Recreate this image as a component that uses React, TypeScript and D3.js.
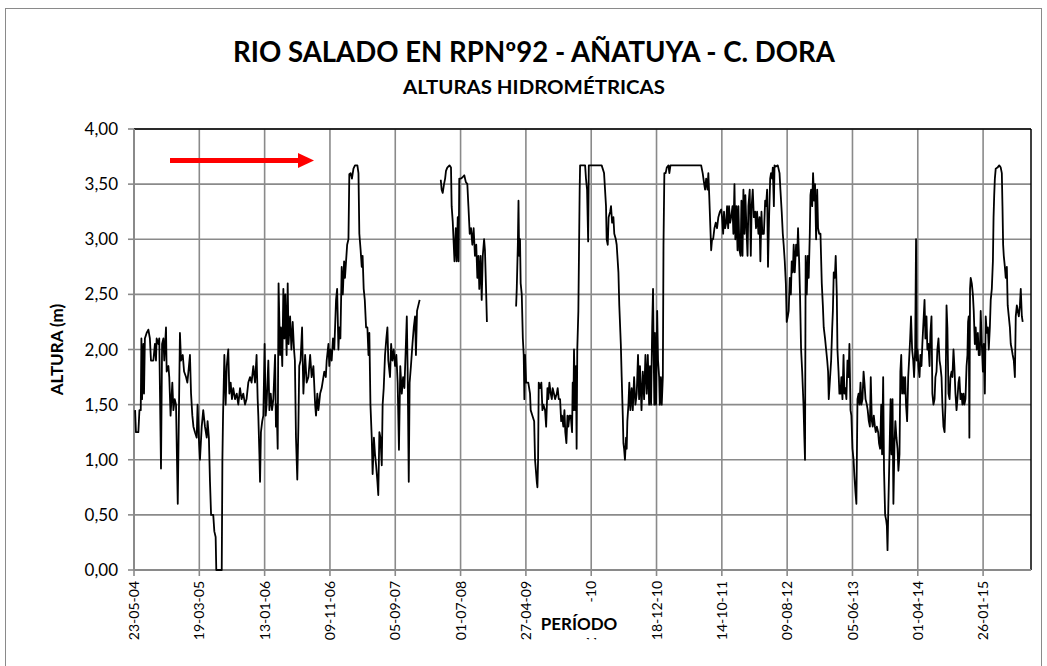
import React from 'react';
import * as d3 from 'd3';

// x values are days counted from 23-05-04, y values are heights in metres
const segment1: [number, number][] = [
  [5, 1.45], [9, 1.25], [20, 1.25], [25, 1.45], [31, 1.45], [34, 2.1], [37, 1.55], [43, 2.05], [46, 1.6], [50, 2.1],
  [58, 2.15], [66, 2.18], [73, 2.1], [78, 1.9], [89, 1.9], [96, 2.05], [101, 1.9], [104, 2.1], [112, 2.05], [116, 2.1],
  [124, 0.92], [129, 2.05], [135, 2.1], [139, 1.9], [147, 2.2], [150, 1.8], [158, 1.85], [162, 1.75], [168, 1.4], [176, 1.7],
  [181, 1.45], [187, 1.55], [193, 1.5], [201, 0.6], [211, 2.15], [216, 1.9], [224, 1.95], [230, 1.8], [239, 1.75], [245, 1.7],
  [250, 1.8], [257, 1.95], [262, 1.6], [268, 1.4], [273, 1.3], [280, 1.25], [288, 1.2], [292, 1.5], [299, 1.15], [303, 1.0],
  [311, 1.3], [318, 1.45], [326, 1.3], [334, 1.2], [338, 1.35], [344, 1.2], [349, 0.8], [354, 0.5], [364, 0.5], [369, 0.35],
  [375, 0.3], [378, 0.0], [403, 0.0], [406, 1.0], [409, 1.4], [415, 1.95], [421, 1.5], [426, 1.85], [433, 2.0], [438, 1.6],
  [444, 1.7], [450, 1.55], [456, 1.65], [464, 1.55], [472, 1.6], [479, 1.5], [487, 1.65], [494, 1.55], [502, 1.6], [510, 1.5],
  [517, 1.55], [525, 1.7], [533, 1.75], [540, 1.7], [548, 1.85], [556, 1.7], [563, 1.95], [568, 1.55], [571, 1.4], [576, 1.05],
  [579, 0.8], [583, 1.25], [589, 1.35], [594, 1.4], [600, 2.05], [605, 1.4], [609, 1.5], [617, 1.9], [622, 1.45], [628, 1.6],
  [634, 1.45], [640, 1.55], [648, 1.95], [652, 1.3], [655, 1.5], [660, 1.1], [664, 2.6], [671, 1.95], [675, 2.2], [681, 1.85],
  [686, 2.55], [691, 2.1], [695, 2.5], [701, 1.95], [706, 2.6], [710, 2.05], [717, 2.3], [723, 2.0], [729, 2.25], [735, 2.0],
  [739, 1.9], [744, 1.2], [750, 0.82], [755, 1.3], [759, 1.85], [765, 1.9], [772, 2.2], [778, 1.6], [786, 1.95], [793, 1.7],
  [801, 1.75], [809, 1.95], [816, 1.75], [824, 1.85], [832, 1.5], [836, 1.4], [842, 1.6], [847, 1.45], [855, 1.6], [862, 1.65],
  [870, 1.75], [874, 1.8], [881, 1.75], [885, 1.9], [893, 2.05], [897, 1.85], [902, 2.0], [908, 1.9], [914, 2.1], [920, 2.0],
  [928, 2.45], [933, 2.55], [939, 2.0], [943, 2.2], [948, 2.1], [954, 2.75], [959, 2.5], [965, 2.8], [969, 2.65], [974, 2.8],
  [979, 2.95], [985, 3.0], [989, 3.59], [995, 3.6], [1001, 3.55], [1008, 3.64], [1015, 3.67], [1026, 3.67], [1031, 3.6], [1035, 3.05],
  [1041, 2.9], [1046, 2.75], [1050, 2.85], [1055, 2.55], [1060, 2.45], [1066, 2.2], [1072, 2.2], [1077, 1.95], [1081, 2.15], [1086, 1.5],
  [1092, 1.2], [1096, 0.87], [1102, 1.2], [1107, 1.05], [1112, 0.95], [1118, 0.8], [1122, 0.68], [1127, 1.25], [1132, 1.2], [1138, 0.95],
  [1142, 1.5], [1147, 1.65], [1153, 1.95], [1159, 2.1], [1164, 2.2], [1168, 1.9], [1176, 1.75], [1181, 2.05], [1187, 1.9], [1193, 2.0],
  [1199, 1.85], [1205, 1.95], [1211, 1.7], [1217, 1.09], [1223, 1.85], [1230, 1.6], [1236, 1.75], [1242, 1.65], [1248, 2.0], [1253, 2.3],
  [1257, 1.8], [1262, 0.8], [1266, 1.7], [1272, 1.85], [1279, 2.05], [1285, 2.2], [1291, 2.3], [1295, 1.95], [1300, 2.35], [1306, 2.4],
  [1312, 2.45],
];

const segment2: [number, number][] = [
  [1409, 3.54], [1413, 3.45], [1418, 3.42], [1424, 3.5], [1429, 3.55], [1433, 3.62], [1439, 3.65], [1449, 3.67], [1456, 3.65], [1459, 3.3],
  [1464, 3.16], [1472, 2.8], [1478, 3.1], [1482, 2.8], [1487, 3.2], [1491, 2.8], [1494, 3.55], [1501, 3.55], [1508, 3.56], [1517, 3.58],
  [1524, 3.52], [1531, 3.5], [1536, 3.3], [1542, 3.05], [1548, 3.1], [1554, 2.95], [1560, 3.1], [1566, 2.85], [1572, 2.95], [1577, 2.65],
  [1582, 2.85], [1586, 2.55], [1592, 2.85], [1597, 2.45], [1602, 2.85], [1608, 3.0], [1612, 2.9], [1617, 2.55], [1621, 2.25],
];

const segment3: [number, number][] = [
  [1755, 2.39], [1758, 2.55], [1763, 2.95], [1766, 3.35], [1769, 2.85], [1773, 3.0], [1776, 2.6], [1781, 2.5], [1786, 2.1], [1790, 1.95],
  [1793, 1.55], [1796, 1.95], [1801, 1.7], [1811, 1.7], [1819, 1.6], [1822, 1.45], [1830, 1.4], [1838, 1.35], [1842, 1.0], [1850, 0.8],
  [1853, 0.75], [1856, 1.0], [1859, 1.7], [1865, 1.65], [1871, 1.7], [1876, 1.45], [1880, 1.5], [1888, 1.45], [1893, 1.3], [1899, 1.65],
  [1903, 1.55], [1908, 1.7], [1914, 1.6], [1919, 1.55], [1923, 1.65], [1929, 1.6], [1934, 1.55], [1942, 1.6], [1946, 1.65], [1951, 1.55],
  [1957, 1.55], [1962, 1.35], [1966, 1.4], [1972, 1.3], [1977, 1.45], [1981, 1.25], [1986, 1.15], [1991, 1.4], [1995, 1.3], [2000, 1.4],
  [2006, 1.4], [2012, 1.25], [2015, 1.7], [2018, 1.45], [2021, 2.0], [2026, 1.45], [2030, 1.85], [2033, 1.1], [2036, 2.0], [2041, 2.35],
  [2044, 2.9], [2047, 3.45], [2049, 3.67], [2060, 3.67], [2072, 3.67], [2076, 3.55], [2081, 3.45], [2086, 2.98], [2089, 3.67], [2093, 3.67],
  [2148, 3.67], [2159, 3.6], [2168, 3.3], [2171, 3.0], [2176, 2.95], [2180, 3.2], [2187, 3.25], [2191, 3.3], [2196, 3.15], [2202, 3.2],
  [2206, 3.05], [2213, 3.0], [2217, 2.95], [2225, 2.7], [2229, 2.4], [2236, 2.05], [2240, 1.75], [2245, 1.4], [2248, 1.15], [2251, 1.1],
  [2255, 1.0], [2260, 1.2], [2263, 1.1], [2266, 1.35], [2271, 1.5], [2275, 1.7], [2280, 1.45], [2286, 1.65], [2291, 1.45], [2297, 1.75],
  [2303, 1.5], [2309, 1.6], [2315, 1.95], [2320, 1.55], [2324, 1.85], [2331, 1.45], [2337, 1.8], [2343, 1.55], [2349, 1.95], [2355, 1.6],
  [2360, 1.95], [2366, 1.5], [2370, 1.85], [2375, 1.5], [2380, 2.2], [2384, 2.55], [2387, 1.95], [2390, 1.5], [2393, 2.15], [2398, 1.5],
  [2403, 2.35], [2407, 1.9], [2412, 1.75], [2415, 1.5], [2420, 1.75], [2424, 1.5], [2429, 1.75], [2432, 2.95], [2436, 3.6], [2442, 3.6],
  [2447, 3.65], [2455, 3.67], [2459, 3.6], [2464, 3.67], [2470, 3.67], [2516, 3.67], [2562, 3.67], [2605, 3.67], [2612, 3.6], [2619, 3.5],
  [2623, 3.45], [2628, 3.55], [2634, 3.45], [2638, 3.6], [2642, 3.4], [2651, 2.9], [2655, 3.0], [2660, 3.0], [2666, 3.1], [2672, 3.15],
  [2678, 3.1], [2684, 3.2], [2691, 3.25], [2697, 3.27], [2701, 3.2], [2706, 3.05], [2710, 3.25], [2715, 3.1], [2720, 3.15], [2724, 3.3],
  [2729, 3.1], [2733, 3.3], [2738, 3.15], [2743, 3.2], [2749, 3.3], [2753, 3.05], [2758, 3.5], [2762, 3.0], [2767, 3.3], [2772, 2.9],
  [2776, 3.3], [2781, 2.9], [2786, 2.85], [2790, 3.35], [2795, 2.85], [2799, 3.45], [2804, 3.05], [2808, 3.4], [2813, 3.1], [2818, 2.85],
  [2822, 3.3], [2828, 3.45], [2833, 2.85], [2837, 3.3], [2842, 3.45], [2847, 3.2], [2853, 3.25], [2857, 3.1], [2862, 3.25], [2868, 3.05],
  [2873, 3.2], [2877, 2.8], [2882, 3.25], [2886, 3.05], [2893, 3.05], [2899, 3.35], [2903, 3.3], [2908, 3.45], [2912, 2.75], [2917, 3.2],
  [2922, 3.55], [2926, 3.6], [2931, 3.55], [2934, 3.65], [2939, 3.3], [2942, 3.67], [2948, 3.66], [2957, 3.67], [2965, 3.6], [2969, 3.45],
  [2975, 3.25], [2980, 3.05], [2984, 2.95], [2989, 2.8], [2994, 2.6], [2998, 2.25], [3003, 2.3], [3007, 2.35], [3012, 2.65], [3017, 2.5],
  [3021, 2.8], [3026, 2.7], [3030, 2.95], [3035, 2.7], [3041, 2.95], [3046, 2.85], [3050, 3.1], [3055, 2.8], [3059, 2.5], [3064, 2.0],
  [3069, 1.8], [3075, 1.5], [3079, 1.2], [3082, 1.0], [3085, 2.85], [3090, 2.5], [3095, 2.85], [3099, 2.65], [3104, 3.05], [3107, 3.4],
  [3110, 3.45], [3115, 3.3], [3119, 3.6], [3124, 3.35], [3128, 3.5], [3133, 3.0], [3138, 3.45], [3142, 3.1], [3147, 3.05], [3153, 3.05],
  [3159, 2.6], [3164, 2.4], [3168, 2.2], [3174, 2.1], [3179, 2.0], [3184, 1.9], [3188, 1.8], [3191, 1.55], [3202, 1.9], [3207, 2.2],
  [3210, 2.35], [3214, 2.7], [3219, 2.65], [3223, 2.85], [3228, 2.5], [3231, 2.0], [3236, 1.8], [3240, 1.6], [3245, 1.6], [3249, 1.75],
  [3254, 1.55], [3259, 1.95], [3263, 1.6], [3268, 1.65], [3272, 1.55], [3277, 1.9], [3282, 1.75], [3286, 2.05], [3291, 1.45], [3295, 1.4],
  [3300, 1.1], [3305, 1.0], [3309, 0.85], [3314, 0.7], [3318, 0.6], [3323, 1.55], [3328, 1.6], [3332, 1.5], [3337, 1.7], [3341, 1.5],
  [3346, 1.55], [3351, 1.8], [3355, 1.7], [3360, 1.55], [3366, 1.5], [3370, 1.45], [3375, 1.35], [3380, 1.3], [3384, 1.75], [3389, 1.35],
  [3393, 1.3], [3398, 1.4], [3403, 1.3], [3407, 1.25], [3412, 1.3], [3418, 1.25], [3422, 1.15], [3427, 1.1], [3432, 1.5], [3436, 1.05],
  [3441, 1.75], [3445, 0.9], [3450, 0.5], [3455, 0.45], [3458, 0.4], [3461, 0.18], [3465, 0.6], [3470, 1.05], [3475, 1.55], [3479, 1.05],
  [3484, 1.55], [3488, 0.6], [3493, 1.15], [3497, 1.35], [3502, 1.2], [3507, 1.1], [3511, 0.9], [3516, 1.05], [3520, 1.8], [3524, 1.95],
  [3528, 1.6], [3533, 1.75], [3537, 1.6], [3542, 1.75], [3546, 1.5], [3551, 1.35], [3556, 1.75], [3560, 1.9], [3565, 2.1], [3569, 2.3],
  [3574, 2.0], [3579, 1.9], [3583, 1.75], [3588, 2.0], [3592, 3.0], [3595, 1.9], [3599, 2.0], [3603, 1.85], [3608, 1.75], [3612, 1.95],
  [3617, 1.85], [3621, 2.05], [3626, 2.25], [3631, 2.45], [3635, 2.1], [3640, 2.3], [3644, 2.0], [3649, 2.05], [3654, 1.85], [3658, 2.15],
  [3663, 2.3], [3667, 1.6], [3672, 1.5], [3677, 1.55], [3681, 1.75], [3686, 1.8], [3690, 2.0], [3695, 2.1], [3700, 1.9], [3704, 1.85],
  [3709, 1.75], [3713, 1.5], [3718, 1.3], [3723, 1.25], [3727, 1.5], [3732, 2.4], [3736, 2.2], [3741, 1.6], [3746, 1.55], [3750, 1.75],
  [3755, 1.8], [3759, 1.75], [3764, 2.0], [3768, 1.85], [3773, 1.6], [3778, 1.45], [3782, 1.55], [3787, 1.7], [3791, 1.75], [3796, 1.55],
  [3801, 1.6], [3805, 1.5], [3810, 1.6], [3814, 1.5], [3819, 1.55], [3824, 1.85], [3828, 1.95], [3831, 2.25], [3834, 2.3], [3837, 1.2],
  [3840, 2.55], [3843, 2.65], [3848, 2.6], [3853, 2.5], [3857, 2.35], [3862, 2.05], [3866, 2.2], [3871, 2.0], [3876, 2.15], [3880, 1.95],
  [3885, 1.95], [3889, 2.35], [3894, 2.05], [3899, 1.8], [3903, 2.05], [3908, 1.6], [3912, 2.3], [3917, 2.15], [3922, 2.2], [3926, 2.0],
  [3931, 2.2], [3935, 2.45], [3940, 2.55], [3945, 2.8], [3948, 3.2], [3951, 3.4], [3954, 3.55], [3958, 3.64], [3966, 3.65], [3974, 3.67],
  [3981, 3.65], [3986, 3.6], [3989, 3.3], [3992, 2.95], [3995, 2.85], [4000, 2.75], [4004, 2.65], [4009, 2.75], [4013, 2.4], [4018, 2.3],
  [4023, 2.2], [4027, 2.05], [4032, 2.0], [4036, 1.95], [4041, 1.9], [4046, 1.75], [4050, 2.3], [4055, 2.4], [4059, 2.35], [4064, 2.3],
  [4069, 2.4], [4073, 2.55], [4078, 2.3], [4082, 2.25],
];

const xTickLabels = [
  '23-05-04', '19-03-05', '13-01-06', '09-11-06', '05-09-07', '01-07-08', '27-04-09',
  '21-02-10', '18-12-10', '14-10-11', '09-08-12', '05-06-13', '01-04-14', '26-01-15',
];
const xTickStep = 300; // days between labels
const xDomainEnd = 4120;
const yTicks = [0, 0.5, 1, 1.5, 2, 2.5, 3, 3.5, 4];

const W = 1047;
const H = 666;
const plot = { left: 134, right: 1031, top: 129, bottom: 570 };
const font = "Lato, 'Open Sans', sans-serif";
const gridColor = '#8a8a8a';

export default function App() {
  const x = d3.scaleLinear().domain([0, xDomainEnd]).range([plot.left, plot.right]);
  const y = d3.scaleLinear().domain([0, 4]).range([plot.bottom, plot.top]);
  const line = d3.line<[number, number]>().x(d => x(d[0])).y(d => y(d[1]));
  const xTicks = xTickLabels.map((lab, i) => ({ lab, day: i * xTickStep }));
  const fmt = (v: number) => v.toFixed(2).replace('.', ',');

  return (
    <svg width={W} height={H} style={{ position: 'absolute', left: 0, top: 0, background: '#fff' }}>
      <rect x={0} y={0} width={W} height={H} fill="#fff" />
      <rect x={5.5} y={8.5} width={1036} height={700} fill="#fff" stroke="#8a8a8a" strokeWidth={1} />

      <text x={534} y={62} textAnchor="middle" fontFamily={font} fontWeight="bold" fontSize={28}
        textLength={602} lengthAdjust="spacingAndGlyphs" fill="#000">
        RIO SALADO EN RPNº92 - AÑATUYA - C. DORA
      </text>
      <text x={534} y={94} textAnchor="middle" fontFamily={font} fontWeight="bold" fontSize={18}
        textLength={262} lengthAdjust="spacingAndGlyphs" fill="#000">
        ALTURAS HIDROMÉTRICAS
      </text>

      {/* grid */}
      {yTicks.map(t => (
        <line key={'gy' + t} x1={plot.left} x2={plot.right} y1={y(t)} y2={y(t)} stroke={gridColor} strokeWidth={1.6} />
      ))}
      {xTicks.map(t => (
        <line key={'gx' + t.day} x1={x(t.day)} x2={x(t.day)} y1={plot.top} y2={plot.bottom} stroke={gridColor} strokeWidth={1.6} />
      ))}

      {/* plot border */}
      <line x1={plot.left} x2={plot.right} y1={plot.top} y2={plot.top} stroke="#000" strokeWidth={1.5} />
      <line x1={plot.right} x2={plot.right} y1={plot.top} y2={plot.bottom} stroke="#000" strokeWidth={1.5} />

      {/* axes */}
      <line x1={plot.left} x2={plot.left} y1={plot.top} y2={plot.bottom} stroke={gridColor} strokeWidth={2} />
      <line x1={plot.left} x2={plot.right} y1={plot.bottom} y2={plot.bottom} stroke={gridColor} strokeWidth={2} />
      {yTicks.map(t => (
        <g key={'yt' + t}>
          <line x1={plot.left - 6} x2={plot.left} y1={y(t)} y2={y(t)} stroke={gridColor} strokeWidth={1.6} />
          <text x={118} y={y(t)} dy="0.36em" textAnchor="end" fontFamily={font} fontSize={17} fill="#000">{fmt(t)}</text>
        </g>
      ))}
      {xTicks.map(t => (
        <g key={'xt' + t.day}>
          <line x1={x(t.day)} x2={x(t.day)} y1={plot.bottom} y2={plot.bottom + 6} stroke={gridColor} strokeWidth={1.6} />
          <text transform={`translate(${x(t.day)},${plot.bottom + 11}) rotate(-90)`} dy="0.36em" textAnchor="end"
            fontFamily={font} fontSize={14} fill="#000">{t.lab}</text>
        </g>
      ))}

      {/* series */}
      {[segment1, segment2, segment3].map((seg, i) => (
        <path key={'s' + i} d={line(seg) || ''} fill="none" stroke="#000" strokeWidth={1.8} strokeLinejoin="round" />
      ))}

      {/* red arrow */}
      <line x1={170} x2={299} y1={160.5} y2={160.5} stroke="#ff0000" strokeWidth={5} />
      <polygon points="298,153 314,160.5 298,168" fill="#ff0000" />

      {/* axis titles */}
      <text transform={`translate(63,${(plot.top + plot.bottom) / 2}) rotate(-90)`} textAnchor="middle"
        fontFamily={font} fontWeight="bold" fontSize={17} fill="#000">ALTURA (m)</text>
      <rect x={538} y={602} width={84} height={36} fill="#fff" />
      <text x={579} y={630} textAnchor="middle" fontFamily={font} fontWeight="bold" fontSize={17} fill="#000">PERÍODO</text>
    </svg>
  );
}
